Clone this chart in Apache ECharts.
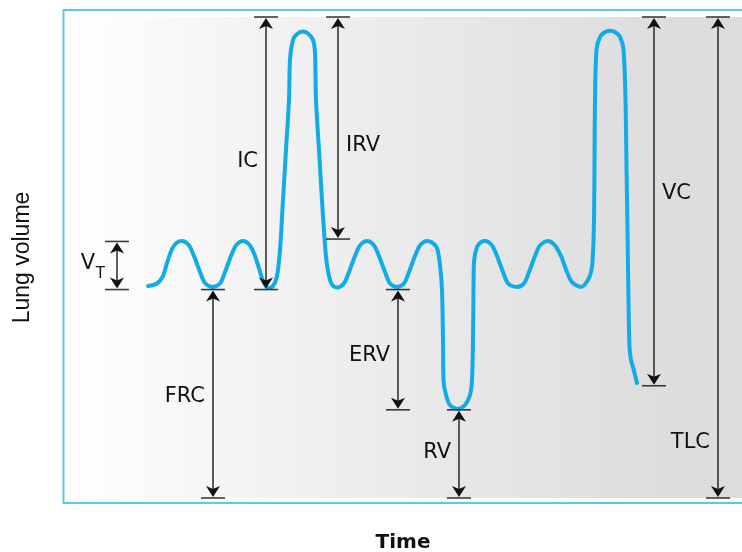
<!DOCTYPE html>
<html>
<head>
<meta charset="utf-8">
<script src="https://cdn.jsdelivr.net/npm/echarts@6/dist/echarts.min.js"></script>
<style>
  html, body { margin: 0; padding: 0; background: #ffffff; }
  #chart { width: 742px; height: 552px; }
</style>
</head>
<body>
<div id="chart"></div>
<script>
// ---- Spirogram trace (time in s, volume in mL) ----
const traceTime = [
  8.4, 9.3, 9.9, 10.3, 10.8, 11.3, 11.8,
  12.5, 13.0, 13.3, 13.6, 14.1, 14.85,
  15.6, 16.1, 16.4, 16.7, 17.2, 17.9,
  18.6, 19.1, 19.4, 19.7, 20.0, 20.4,
  20.9, 21.3, 21.6, 21.9, 22.2, 22.5, 22.6, 22.9, 23.3, 23.9, 24.4, 24.9, 25.1, 25.2, 25.5, 25.8, 26.1, 26.3, 26.6, 26.9, 27.3,
  28.0, 28.5, 28.8, 29.1, 29.6, 30.3,
  31.0, 31.5, 31.8, 32.1, 32.6, 33.3,
  34.0, 34.5, 34.8, 35.1, 35.6, 36.3,
  36.8, 37.3, 37.6, 37.8, 37.9, 37.95, 38.2, 38.6, 39.4, 40.1, 40.6, 40.8, 40.9, 40.95, 41.0, 41.3, 41.7, 42.1,
  42.8, 43.3, 43.6, 43.9, 44.4, 45.3,
  46.0, 46.5, 46.8, 47.1, 47.6, 48.4,
  49.1, 49.7, 50.0, 50.3, 50.8, 51.7,
  52.4, 52.75, 52.9, 53.0, 53.05, 53.1, 53.25, 53.6, 54.1, 54.6, 55.1, 55.6, 55.95, 56.15, 56.25, 56.35, 56.45, 56.55, 56.7, 56.9, 57.3
];
const traceVolume = [
  2645, 2676, 2769, 2931, 3106, 3187, 3206,
  3150, 3019, 2919, 2819, 2682, 2632,
  2676, 2819, 2919, 3019, 3150, 3206,
  3150, 3019, 2906, 2782, 2682, 2620,
  2645, 2769, 3094, 3717, 4341, 4965, 5464, 5713, 5788, 5819, 5794, 5713, 5551, 4965, 4341, 3717, 3156, 2906, 2719, 2645, 2626,
  2676, 2819, 2919, 3019, 3150, 3206,
  3150, 3019, 2919, 2819, 2676, 2632,
  2676, 2819, 2919, 3019, 3150, 3206,
  3187, 3119, 2906, 2595, 1971, 1472, 1285, 1160, 1110, 1160, 1285, 1472, 1971, 2595, 2944, 3131, 3193, 3206,
  3150, 3019, 2919, 2819, 2676, 2632,
  2676, 2819, 2919, 3019, 3150, 3206,
  3150, 3019, 2919, 2819, 2694, 2632,
  2719, 2844, 3056, 3468, 4129, 4965, 5588, 5751, 5813, 5829, 5813, 5751, 5588, 4965, 4129, 3343, 2470, 1884, 1721, 1634, 1435
];

// ---- Annotated lung volumes ----
const annoNames    = ['V', 'IC', 'IRV', 'VC', 'TLC', 'FRC', 'ERV', 'RV'];
const annoSubs     = ['T', '', '', '', '', '', '', ''];
const annoTime     = [5.3, 20.2, 27.4, 59.0, 65.4, 14.9, 33.4, 39.5];
const annoLow      = [2600, 2600, 3230, 1400, 0, 0, 1100, 0];
const annoHigh     = [3200, 6000, 6000, 6000, 6000, 2600, 2600, 1100];
const annoLabelVol = [2920, 4200, 4400, 3800, 690, 1260, 1780, 570];
const annoSide     = ['left', 'left', 'right', 'right', 'left', 'left', 'left', 'left'];

const volumeMax = 6000;
const timeMax = 67.8;

const chart = echarts.init(document.getElementById('chart'), null, { renderer: 'canvas' });

const traceData = traceTime.map((t, i) => [t, traceVolume[i]]);
const annoData = annoNames.map((n, i) => [annoTime[i], annoLow[i], annoHigh[i], annoLabelVol[i], i]);

const FONT = '"DejaVu Sans", Verdana, sans-serif';

function arrowHead(x, y, dir) {
  // dir = -1 pointing up, +1 pointing down; tip at (x,y)
  const h = 11, w = 7, n = 8;
  return {
    type: 'polygon',
    shape: { points: [[x, y], [x - w, y - dir * h], [x, y - dir * n], [x + w, y - dir * h]] },
    style: { fill: '#111' }
  };
}

function renderAnno(params, api) {
  const idx = api.value(4);
  const top = api.coord([api.value(0), api.value(2)]);
  const bot = api.coord([api.value(0), api.value(1)]);
  const lab = api.coord([api.value(0), api.value(3)]);
  const x = top[0];
  const children = [
    { type: 'line', shape: { x1: x, y1: top[1] + 6, x2: x, y2: bot[1] - 6 }, style: { stroke: '#1a1a1a', lineWidth: 1.4 } },
    { type: 'line', shape: { x1: x - 12, y1: top[1], x2: x + 12, y2: top[1] }, style: { stroke: '#3a3a3a', lineWidth: 1.6 } },
    { type: 'line', shape: { x1: x - 12, y1: bot[1], x2: x + 12, y2: bot[1] }, style: { stroke: '#3a3a3a', lineWidth: 1.6 } },
    arrowHead(x, top[1] + 1, -1),
    arrowHead(x, bot[1] - 1, 1)
  ];
  const side = annoSide[idx];
  const gap = 8;
  const sub = annoSubs[idx];
  if (sub) {
    children.push({
      type: 'text',
      style: { text: sub, x: x - 12, y: lab[1] + 10, align: 'right', verticalAlign: 'middle', font: '15px ' + FONT, fill: '#111' }
    });
    children.push({
      type: 'text',
      style: { text: annoNames[idx], x: x - 22, y: lab[1], align: 'right', verticalAlign: 'middle', font: '21px ' + FONT, fill: '#111' }
    });
  } else {
    children.push({
      type: 'text',
      style: {
        text: annoNames[idx],
        x: side === 'left' ? x - gap : x + gap,
        y: lab[1],
        align: side === 'left' ? 'right' : 'left',
        verticalAlign: 'middle',
        font: '21px ' + FONT,
        fill: '#111'
      }
    });
  }
  return { type: 'group', children: children };
}

chart.setOption({
  animation: false,
  backgroundColor: '#ffffff',
  grid: {
    left: 64, right: 0, top: 17, bottom: 54,
    containLabel: false,
    outerBoundsMode: 'none',
    show: true,
    borderWidth: 0,
    backgroundColor: new echarts.graphic.LinearGradient(0, 0, 1, 0, [
      { offset: 0, color: '#ffffff' },
      { offset: 0.45, color: '#ececec' },
      { offset: 0.85, color: '#dedede' },
      { offset: 1, color: '#dcdcdc' }
    ])
  },
  xAxis: {
    type: 'value', min: 0, max: timeMax,
    name: 'Time', nameLocation: 'middle', nameGap: 35, nameMoveOverlap: false,
    nameTextStyle: { fontFamily: '"DejaVu Sans", Verdana, sans-serif', fontWeight: 'bold', fontSize: 20, color: '#111' },
    axisLine: { show: false }, axisTick: { show: false }, axisLabel: { show: false }, splitLine: { show: false }
  },
  yAxis: {
    type: 'value', min: 0, max: volumeMax,
    name: 'Lung volume', nameLocation: 'middle', nameGap: 30, nameRotate: 90, nameMoveOverlap: false,
    nameTextStyle: { fontFamily: '"Liberation Sans", Arial, sans-serif', fontSize: 23, color: '#111' },
    axisLine: { show: false }, axisTick: { show: false }, axisLabel: { show: false }, splitLine: { show: false }
  },
  graphic: [{
    type: 'rect',
    shape: { x: 63.5, y: 10, width: 700, height: 493 },
    style: { fill: 'none', stroke: '#5cc6f0', lineWidth: 2 },
    z: 100, silent: true
  }],
  series: [
    {
      type: 'line',
      data: traceData,
      smooth: 0.3,
      symbol: 'none',
      lineStyle: { color: '#11ace6', width: 4, join: 'round', cap: 'round' },
      z: 2
    },
    {
      type: 'custom',
      data: annoData,
      renderItem: renderAnno,
      encode: { x: 0, y: [1, 2, 3] },
      clip: false,
      z: 5,
      silent: true
    }
  ]
});
</script>
</body>
</html>
